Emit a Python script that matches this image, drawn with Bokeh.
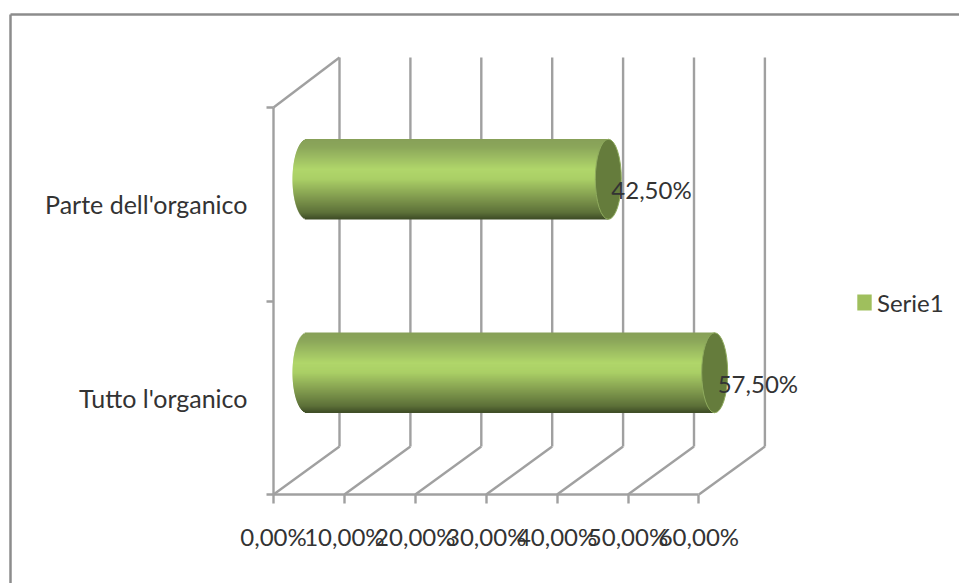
import numpy as np
from bokeh.embed import file_html
from bokeh.models import ColumnDataSource, FixedTicker, Legend, LegendItem, LinearAxis, Range1d
from bokeh.plotting import figure
from bokeh.resources import INLINE

# Survey shares shown on the two cylinders
categories = ["Tutto l'organico", "Parte dell'organico"]
values = [57.5, 42.5]
value_labels = ["57,50%", "42,50%"]
x_ticks = [0, 10, 20, 30, 40, 50, 60]
x_tick_labels = ["0,00%", "10,00%", "20,00%", "30,00%", "40,00%", "50,00%", "60,00%"]
series_name = "Serie1"

WIDTH, HEIGHT = 959, 583
FONT = "Lato"
FONT_SIZE = "24px"
CATEGORY_FONT_SIZE = "25px"
TEXT = "#333333"
GRID = "#a0a0a0"
GRID_W = 2.4

# Scale: pixels per unit and the pixel position of the plot origin
PX_X, PX_Y = 7.09, 193.5
X0, Y0 = 273.0, 494.0
# Oblique 3D projection of the back wall and of the cylinder axis
WALL_DX, WALL_DY = 66 / PX_X, 48 / PX_Y
BAR_DX, BAR_DY = 33.5 / PX_X, 25 / PX_Y
BAR_HEIGHT = 80 / PX_Y
CAP_RX = 13 / PX_X
BASE_RX = 14.5 / PX_X
WALL_TOP = (494 - 57) / PX_Y


def dx(px):
    return (px - X0) / PX_X


def dy(py):
    return (Y0 - py) / PX_Y


p = figure(
    width=WIDTH, height=HEIGHT, output_backend="svg", toolbar_location=None,
    x_range=Range1d(dx(0), dx(WIDTH)), y_range=Range1d(dy(HEIGHT), dy(0)),
    min_border=0, x_axis_type=None, y_axis_type=None, outline_line_color=None,
    background_fill_color="white", border_fill_color="white",
)
p.grid.visible = False

# Outer chart border
p.segment([dx(10), dx(10)], [dy(14), dy(14)], [dx(959), dx(10)], [dy(14), dy(HEIGHT)],
          line_color="#8c8c8c", line_width=2.5)

# Back wall, floor diagonals and left wall
xt = np.array(x_ticks, dtype=float)
p.segment(xt + WALL_DX, WALL_DY, xt + WALL_DX, WALL_TOP, line_color=GRID, line_width=GRID_W)
p.segment(xt, 0, xt + WALL_DX, WALL_DY, line_color=GRID, line_width=GRID_W)
p.segment([0], [2], [WALL_DX], [WALL_TOP], line_color=GRID, line_width=GRID_W)

# Horizontal axis with its value labels
x_axis = LinearAxis(
    ticker=FixedTicker(ticks=x_ticks), fixed_location=0, bounds=(0, 60),
    major_label_overrides={t: s for t, s in zip(x_ticks, x_tick_labels)},
    major_tick_in=0, major_tick_out=9, minor_tick_line_color=None,
    axis_line_color=GRID, axis_line_width=GRID_W,
    major_tick_line_color=GRID, major_tick_line_width=GRID_W,
    major_label_text_font=FONT, major_label_text_font_size=FONT_SIZE,
    major_label_text_color=TEXT, major_label_standoff=18,
)
p.add_layout(x_axis, "below")

# Vertical axis: tick marks on category boundaries, labels on category centres
y_axis = LinearAxis(
    ticker=FixedTicker(ticks=[0, 1, 2]), fixed_location=0, bounds=(0, 2),
    major_label_text_color=None, major_tick_in=0, major_tick_out=7, minor_tick_line_color=None,
    axis_line_color=GRID, axis_line_width=GRID_W,
    major_tick_line_color=GRID, major_tick_line_width=GRID_W,
)
p.add_layout(y_axis, "left")
label_axis = LinearAxis(
    ticker=FixedTicker(ticks=[0.5, 1.5]), fixed_location=0, bounds=(0, 2),
    major_label_overrides={0.5: categories[0], 1.5: categories[1]},
    axis_line_color=None, major_tick_line_color=None, minor_tick_line_color=None,
    major_label_text_font=FONT, major_label_text_font_size=CATEGORY_FONT_SIZE,
    major_label_text_color=TEXT, major_label_standoff=20,
)
p.add_layout(label_axis, "left")

# Shading across the cylinder, from its upper edge (0) to its lower edge (1)
stops = [0.0, 0.1, 0.38, 0.5, 0.75, 0.92, 1.0]
stop_rgb = np.array([
    [135, 160, 88], [139, 166, 90], [176, 214, 106], [170, 207, 102],
    [125, 150, 76], [92, 112, 56], [62, 76, 38],
], dtype=float)
ROWS = 80
t = (np.arange(ROWS) + 0.5) / ROWS
shade = [
    "#%02x%02x%02x" % tuple(int(round(np.interp(v, stops, stop_rgb[:, c]))) for c in range(3))
    for v in t
]
row_h = BAR_HEIGHT / ROWS

for i, val in enumerate(values):
    cy = i + 0.5 + BAR_DY
    top = cy + BAR_HEIGHT / 2 - t * BAR_HEIGHT
    bulge = BASE_RX * np.sqrt(np.clip(1 - (2 * t - 1) ** 2, 0, 1))
    p.quad(
        left=BAR_DX - bulge, right=np.full(ROWS, val + BAR_DX),
        top=top + row_h * 0.75, bottom=top - row_h * 0.75,
        fill_color=shade, line_color=None,
    )
    p.ellipse(
        x=[val + BAR_DX], y=[cy], width=[2 * CAP_RX], height=[BAR_HEIGHT],
        fill_color="#657c3c", line_color="#8fab5e", line_width=1,
    )

# Value labels beside the cylinder ends
src = ColumnDataSource(dict(
    x=np.array(values) + BAR_DX + 3 / PX_X,
    y=np.arange(len(values)) + 0.5 + BAR_DY - 10.5 / PX_Y,
    t=value_labels,
))
p.text("x", "y", "t", source=src, text_font={"value": FONT}, text_font_size={"value": FONT_SIZE},
       text_color=TEXT, text_baseline="middle", text_align="left")

# Legend
swatch = p.quad(left=[np.nan], right=[np.nan], top=[np.nan], bottom=[np.nan],
                fill_color="#9fbf5d", line_color=None)
legend = Legend(
    items=[LegendItem(label=series_name, renderers=[swatch])],
    location=(855, HEIGHT - 317), orientation="vertical",
    border_line_color=None, background_fill_alpha=0, margin=0, padding=0,
    glyph_width=18, glyph_height=20, label_standoff=4,
    label_text_font=FONT, label_text_font_size=FONT_SIZE, label_text_color=TEXT,
    label_height=30,
)
p.add_layout(legend, "center")

open("out.html", "w").write(file_html(p, INLINE))
